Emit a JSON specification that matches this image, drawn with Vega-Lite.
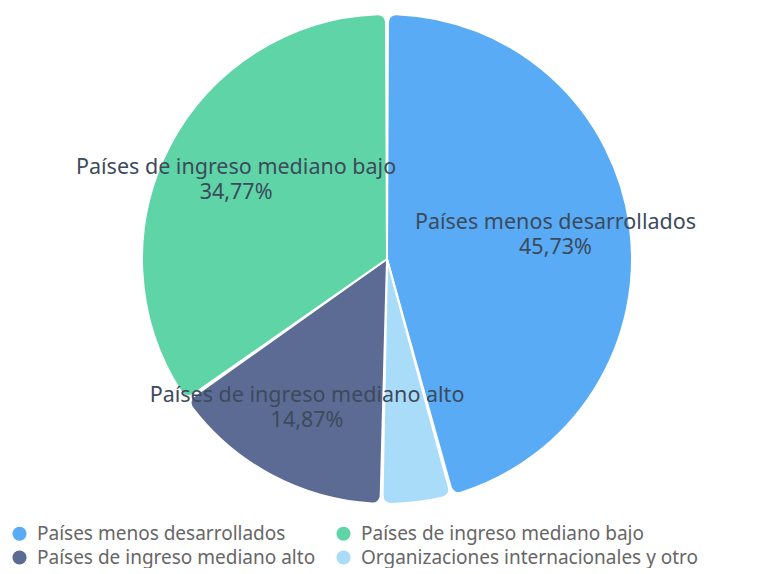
{
  "$schema": "https://vega.github.io/schema/vega-lite/v6.json",
  "width": 762,
  "height": 490,
  "padding": {"left": 6, "top": 10, "right": 0, "bottom": 0},
  "autosize": {"type": "pad"},
  "background": "white",
  "config": {"view": {"stroke": null}, "font": "Noto Sans"},
  "data": {
    "values": [
      {"category": "Países menos desarrollados", "value": 45.73, "rank": 1, "pct": "45,73%"},
      {"category": "Organizaciones internacionales y otro", "value": 4.63, "rank": 2, "pct": "4,63%"},
      {"category": "Países de ingreso mediano alto", "value": 14.87, "rank": 3, "pct": "14,87%"},
      {"category": "Países de ingreso mediano bajo", "value": 34.77, "rank": 4, "pct": "34,77%"}
    ]
  },
  "transform": [{"calculate": "[datum.category, datum.pct]", "as": "label"}],
  "encoding": {
    "theta": {"field": "value", "type": "quantitative", "stack": true},
    "order": {"field": "rank", "type": "quantitative"}
  },
  "layer": [
    {
      "mark": {"type": "arc", "outerRadius": 245, "cornerRadius": 8, "stroke": "white", "strokeWidth": 2, "padAngle": 0.008},
      "encoding": {
        "color": {
          "field": "category",
          "type": "nominal",
          "scale": {
            "domain": ["Países menos desarrollados", "Países de ingreso mediano alto", "Países de ingreso mediano bajo", "Organizaciones internacionales y otro"],
            "range": ["#58abf4", "#5b6b94", "#5fd5a7", "#a9dcf9"]
          },
          "legend": {
            "title": null,
            "orient": "none",
            "legendX": 4,
            "legendY": 510,
            "padding": 0,
            "columns": 2,
            "symbolType": "circle",
            "symbolSize": 200,
            "symbolStrokeWidth": 0,
            "labelFontSize": 19,
            "labelColor": "#666666",
            "labelLimit": 400,
            "columnPadding": 18,
            "rowPadding": 4,
            "labelOffset": 8
          }
        }
      }
    },
    {
      "mark": {"type": "text", "radius": 170, "fontSize": 21.5, "color": "#3c4a5c", "align": "center", "baseline": "middle", "lineHeight": 25, "dy": -13},
      "encoding": {
        "text": {"condition": {"test": "datum.rank == 2", "value": ""}, "field": "label"}
      }
    }
  ]
}
